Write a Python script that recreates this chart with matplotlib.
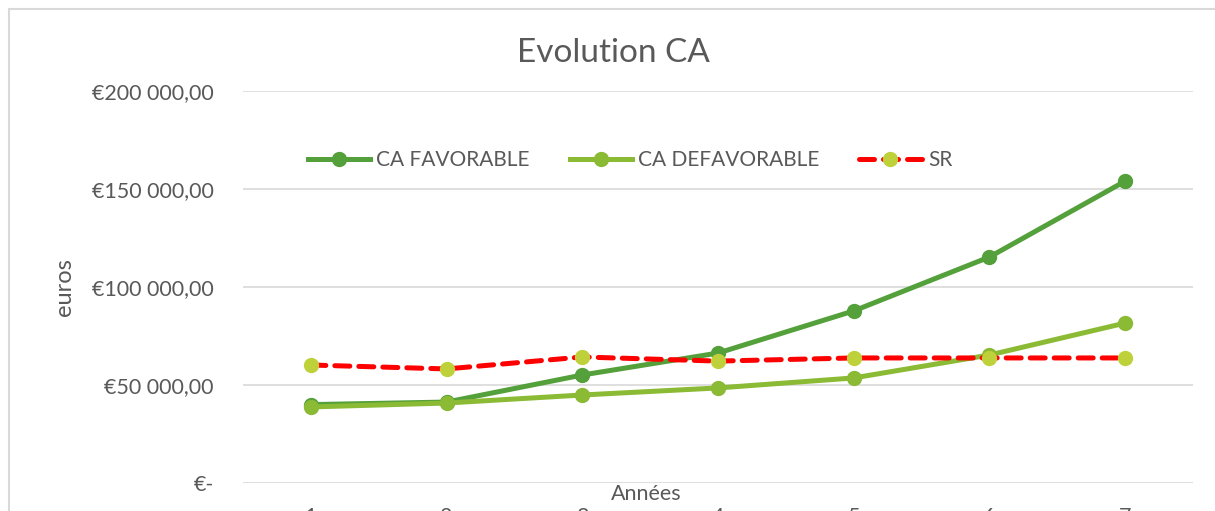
"""Evolution du chiffre d'affaires : scénario favorable / défavorable / SR."""
import matplotlib
matplotlib.use("Agg")
import matplotlib.pyplot as plt
from matplotlib.patches import Rectangle
from matplotlib.ticker import FuncFormatter

annees = [1, 2, 3, 4, 5, 6, 7]
ca_favorable = [40000, 41300, 55100, 66300, 87800, 115300, 154000]
ca_defavorable = [38800, 40800, 44900, 48500, 53600, 65300, 81600]
sr = [60200, 58200, 64300, 62200, 63800, 63800, 63800]

GRIS_TEXTE = "#595959"
GRIS_GRILLE = "#D9D9D9"

plt.rcParams["font.family"] = ["Lato", "DejaVu Sans"]


def format_euros(val, pos) -> str:
    """Format monétaire à la Excel : €200 000,00 / €-."""
    if val == 0:
        return "€-"
    return "€" + f"{val:,.2f}".replace(",", " ").replace(".", ",")


fig = plt.figure(figsize=(12.15, 5.11), dpi=100)
fig.patches.append(Rectangle((9 / 1215, -0.1), 1.2, 1 - 9 / 511 + 0.1,
                             transform=fig.transFigure, fill=False,
                             edgecolor=GRIS_GRILLE, linewidth=1.5))

ax = fig.add_axes([243 / 1215, 28 / 511, 950 / 1215, 392 / 511])

ax.plot(annees, ca_favorable, "-o", color="#54A03A", linewidth=3.6,
        markersize=10, label="CA FAVORABLE")
ax.plot(annees, ca_defavorable, "-o", color="#8BBA34", linewidth=3.6,
        markersize=10, label="CA DEFAVORABLE")
ax.plot(annees, sr, "--o", color="#FF0000", linewidth=3.6, markersize=10,
        markerfacecolor="#BFD13A", markeredgecolor="#BFD13A",
        dashes=(3, 1.8), dash_capstyle="round", label="SR")

ax.set_xlim(0.5, 7.5)
ax.set_ylim(0, 200000)
ax.set_yticks([0, 50000, 100000, 150000, 200000])
ax.yaxis.set_major_formatter(FuncFormatter(format_euros))
ax.set_xticks(annees)
ax.tick_params(axis="both", length=0, labelsize=15.5, labelcolor=GRIS_TEXTE)
ax.tick_params(axis="y", pad=21)
ax.tick_params(axis="x", pad=17)
ax.grid(True, axis="y", color=GRIS_GRILLE, linewidth=1.2)
ax.set_axisbelow(True)
for s in ax.spines.values():
    s.set_visible(False)

fig.text(613 / 1215, 1 - 53 / 511, "Evolution CA", ha="center", va="center",
         fontsize=24, color=GRIS_TEXTE)
fig.text(65 / 1215, 1 - 287 / 511, "euros", ha="center", va="center",
         rotation=90, fontsize=17, color=GRIS_TEXTE)
fig.text(646 / 1215, 1 - 494 / 511, "Années", ha="center", va="center",
         fontsize=15.5, color=GRIS_TEXTE)

leg = fig.legend(loc="center", bbox_to_anchor=(630 / 1215, 1 - 160 / 511),
                 ncol=3, frameon=False, fontsize=15, handlelength=3,
                 handletextpad=0.3, columnspacing=1.9)
for t in leg.get_texts():
    t.set_color(GRIS_TEXTE)

fig.savefig("out.png", dpi=100)
